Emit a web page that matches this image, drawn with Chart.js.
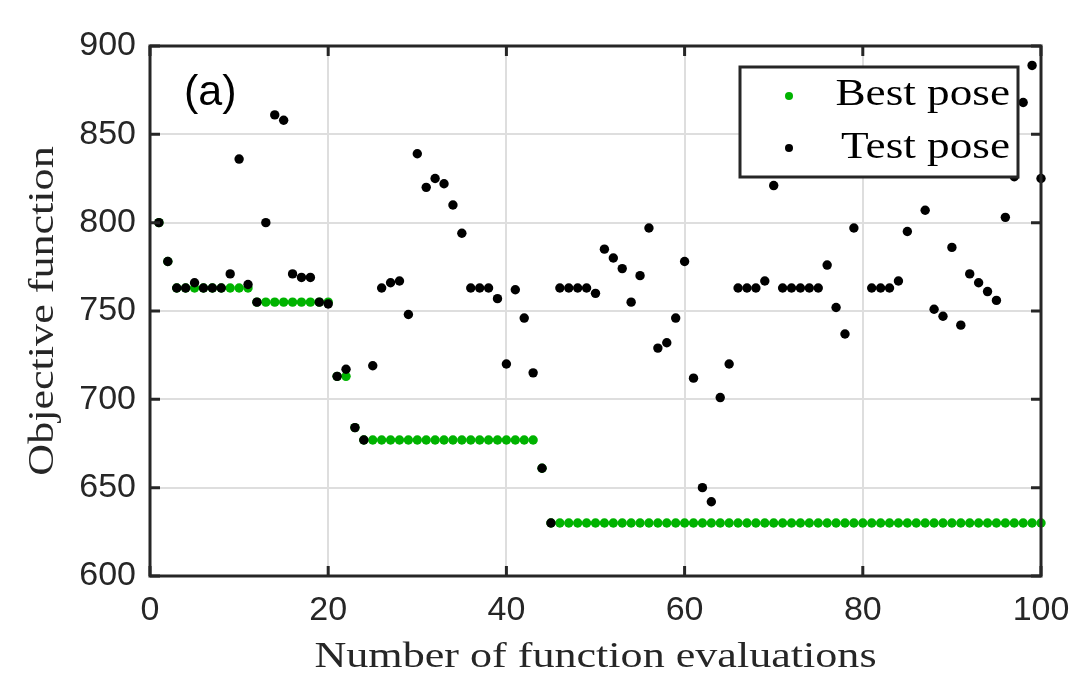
<!DOCTYPE html>
<html>
<head>
<meta charset="utf-8">
<script src="https://cdn.jsdelivr.net/npm/chart.js@4.4.1/dist/chart.umd.min.js"></script>
<style>
  html, body { margin: 0; padding: 0; background: #fff; }
  #wrap { width: 1070px; height: 676px; position: relative; }
</style>
</head>
<body>
<div id="wrap"><canvas id="myChart"></canvas></div>
<script>
// values, evaluation n = index + 1 (null = hidden behind legend)
const testValues = [
  800, 778, 763, 763, 766, 763, 763, 763, 771, 836,
  765, 755, 800, 861, 858, 771, 769, 769, 755, 754,
  713, 717, 684, 677, 719, 763, 766, 767, 748, 839,
  820, 825, 822, 810, 794, 763, 763, 763, 757, 720,
  762, 746, 715, 661, 630, 763, 763, 763, 763, 760,
  785, 780, 774, 755, 770, 797, 729, 732, 746, 778,
  712, 650, 642, 701, 720, 763, 763, 763, 767, 821,
  763, 763, 763, 763, 763, 776, 752, 737, 797, null,
  763, 763, 763, 767, 795, null, 807, 751, 747, 786,
  742, 771, 766, 761, 756, 803, 826, 868, 889, 825
];
const bestValues = [
  800, 778, 763, 763, 763, 763, 763, 763, 763, 763,
  763, 755, 755, 755, 755, 755, 755, 755, 755, 755,
  713, 713, 684, 677, 677, 677, 677, 677, 677, 677,
  677, 677, 677, 677, 677, 677, 677, 677, 677, 677,
  677, 677, 677, 661, 630, 630, 630, 630, 630, 630,
  630, 630, 630, 630, 630, 630, 630, 630, 630, 630,
  630, 630, 630, 630, 630, 630, 630, 630, 630, 630,
  630, 630, 630, 630, 630, 630, 630, 630, 630, 630,
  630, 630, 630, 630, 630, 630, 630, 630, 630, 630,
  630, 630, 630, 630, 630, 630, 630, 630, 630, 630
];
const xTicks = [0, 20, 40, 60, 80, 100];
const yTicks = [600, 650, 700, 750, 800, 850, 900];
const seriesNames = ['Best pose', 'Test pose'];
const xTitle = 'Number of function evaluations';
const yTitle = 'Objective function';

const axisColor = '#262626';
const bestColor = '#00b300';
const sansFont = "'Liberation Sans', Arial, sans-serif";
const serifFont = "'Liberation Serif', 'Times New Roman', serif";

function toPoints(arr){
  return arr.map((v, i) => ({ x: i + 1, y: v }));
}

// serif text a bit wider than Times, to look like the LaTeX font of the original
function wideText(ctx, text, x, y, size, stretch, angle, align){
  ctx.save();
  ctx.translate(x, y);
  ctx.rotate(angle);
  ctx.scale(stretch, 1);
  ctx.font = size + 'px ' + serifFont;
  ctx.textAlign = align;
  ctx.textBaseline = 'alphabetic';
  ctx.fillText(text, 0, 0);
  ctx.restore();
}

// box round the axes, inward ticks, titles, legend and panel label
const framePlugin = {
  id: 'frame',
  afterDatasetsDraw(chart){
    const ctx = chart.ctx;
    const a = chart.chartArea;
    const xs = chart.scales.x, ys = chart.scales.y;
    ctx.save();
    ctx.strokeStyle = axisColor;
    ctx.lineWidth = 3;
    ctx.beginPath();
    xTicks.forEach(t => {
      const px = xs.getPixelForValue(t);
      ctx.moveTo(px, a.bottom); ctx.lineTo(px, a.bottom - 10);
      ctx.moveTo(px, a.top); ctx.lineTo(px, a.top + 10);
    });
    yTicks.forEach(t => {
      const py = ys.getPixelForValue(t);
      ctx.moveTo(a.left, py); ctx.lineTo(a.left + 10, py);
      ctx.moveTo(a.right, py); ctx.lineTo(a.right - 10, py);
    });
    ctx.stroke();
    ctx.strokeRect(a.left, a.top, a.right - a.left, a.bottom - a.top);

    // axis titles
    ctx.fillStyle = axisColor;
    wideText(ctx, xTitle, (a.left + a.right) / 2, 667, 35, 1.26, 0, 'center');
    wideText(ctx, yTitle, 53, (a.top + a.bottom) / 2, 35, 1.26, -Math.PI / 2, 'center');

    // panel label
    ctx.fillStyle = '#000';
    ctx.font = '43px ' + sansFont;
    ctx.textAlign = 'left';
    ctx.textBaseline = 'alphabetic';
    ctx.fillText('(a)', 184, 105);

    // legend
    const lx = 740, ly = 67, lw = 278, lh = 110;
    ctx.fillStyle = '#fff';
    ctx.fillRect(lx, ly, lw, lh);
    ctx.lineWidth = 3;
    ctx.strokeStyle = axisColor;
    ctx.strokeRect(lx, ly, lw, lh);
    const rows = [
      { name: seriesNames[0], color: bestColor, y: 96, base: 105 },
      { name: seriesNames[1], color: '#000', y: 148, base: 158 }
    ];
    rows.forEach(r => {
      ctx.fillStyle = r.color;
      ctx.beginPath();
      ctx.arc(789, r.y, 4, 0, Math.PI * 2);
      ctx.fill();
      ctx.fillStyle = '#000';
      wideText(ctx, r.name, 1010, r.base, 38, 1.19, 0, 'right');
    });
    ctx.restore();
  }
};

const ctx = document.getElementById('myChart').getContext('2d');
const myChart = new Chart(ctx, {
  type: 'scatter',
  data: {
    datasets: [
      {
        label: seriesNames[1],
        data: toPoints(testValues),
        backgroundColor: '#000',
        borderWidth: 0,
        pointRadius: 4.7,
        clip: false
      },
      {
        label: seriesNames[0],
        data: toPoints(bestValues),
        backgroundColor: bestColor,
        borderWidth: 0,
        pointRadius: 4.7,
        clip: false
      }
    ]
  },
  options: {
    responsive: true,
    maintainAspectRatio: false,
    animation: false,
    layout: { padding: { top: 46, right: 29, left: 0, bottom: 0 } },
    plugins: { legend: { display: false }, tooltip: { enabled: false } },
    scales: {
      x: {
        type: 'linear',
        min: 0,
        max: 100,
        afterBuildTicks: s => { s.ticks = xTicks.map(v => ({ value: v })); },
        afterFit: s => { s.height = 100; s.paddingLeft = 0; s.paddingRight = 0; },
        grid: { color: '#dedede', lineWidth: 2, drawTicks: false },
        border: { display: false },
        ticks: { color: axisColor, font: { family: sansFont, size: 34 }, padding: 14, maxRotation: 0 }
      },
      y: {
        min: 600,
        max: 900,
        afterBuildTicks: s => { s.ticks = yTicks.map(v => ({ value: v })); },
        afterFit: s => { s.width = 150; s.paddingTop = 0; s.paddingBottom = 0; },
        grid: { color: '#dedede', lineWidth: 2, drawTicks: false },
        border: { display: false },
        ticks: { color: axisColor, font: { family: sansFont, size: 34 }, padding: 14 }
      }
    }
  },
  plugins: [framePlugin]
});
</script>
</body>
</html>
